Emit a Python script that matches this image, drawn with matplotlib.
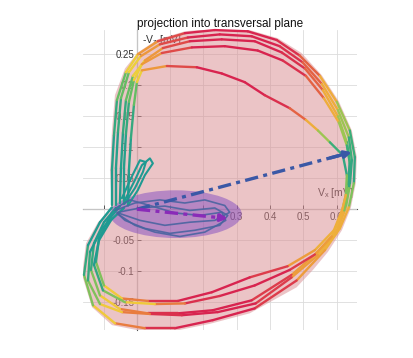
import numpy as np
import matplotlib
matplotlib.use("Agg")
import matplotlib.pyplot as plt
from matplotlib.collections import LineCollection
from matplotlib.colors import LinearSegmentedColormap
from matplotlib.patches import Ellipse, Polygon

plt.rcParams['font.family'] = ['Liberation Sans', 'DejaVu Sans']
plt.rcParams['mathtext.fontset'] = 'custom'
plt.rcParams['mathtext.rm'] = 'Liberation Sans'
plt.rcParams['mathtext.it'] = 'Liberation Sans:italic'

# ---------------- data (mV) ----------------
loop_a_x = [-0.075, -0.075, -0.069, -0.060, -0.033, 0.003, 0.063, 0.144, 0.234, 0.333, 0.420, 0.489, 0.550, 0.601, 0.640, 0.655,
            0.652, 0.637, 0.610, 0.565, 0.480, 0.354, 0.228, 0.114, 0.024, -0.066, -0.132, -0.159, -0.147, -0.111, -0.075]
loop_a_y = [0.006, 0.063, 0.119, 0.176, 0.221, 0.250, 0.271, 0.284, 0.289, 0.287, 0.273, 0.248, 0.215, 0.173, 0.127, 0.084,
            0.042, 0.003, -0.031, -0.066, -0.115, -0.160, -0.179, -0.192, -0.192, -0.184, -0.155, -0.106, -0.058, -0.021, 0.003]

loop_b_x = [-0.063, -0.063, -0.057, -0.048, -0.024, 0.012, 0.069, 0.153, 0.249, 0.345, 0.429, 0.498, 0.556, 0.604, 0.637, 0.646,
            0.640, 0.628, 0.601, 0.544, 0.465, 0.345, 0.228, 0.123, 0.033, -0.051, -0.111, -0.138, -0.129, -0.099, -0.063]
loop_b_y = [0.006, 0.066, 0.124, 0.179, 0.221, 0.247, 0.266, 0.277, 0.282, 0.279, 0.263, 0.237, 0.202, 0.160, 0.116, 0.079,
            0.039, 0.003, -0.034, -0.069, -0.106, -0.147, -0.163, -0.168, -0.168, -0.161, -0.139, -0.098, -0.055, -0.021, 0.002]

loop_c_x = [-0.051, -0.048, -0.042, -0.033, -0.012, 0.024, 0.078, 0.159, 0.255, 0.354, 0.435, 0.505, 0.559, 0.604, 0.631, 0.640,
            0.634, 0.619, 0.592, 0.535, 0.453, 0.339, 0.225, 0.123, 0.033, -0.045, -0.099, -0.123, -0.114, -0.087, -0.051]
loop_c_y = [0.010, 0.066, 0.123, 0.176, 0.215, 0.240, 0.260, 0.271, 0.274, 0.271, 0.253, 0.227, 0.192, 0.150, 0.108, 0.076,
            0.037, 0.002, -0.034, -0.066, -0.092, -0.110, -0.134, -0.148, -0.148, -0.144, -0.123, -0.085, -0.047, -0.018, 0.005]

loop_d_x = [-0.039, -0.039, -0.033, -0.024, -0.009, 0.015, 0.075, 0.165, 0.264, 0.363, 0.438, 0.508, 0.562, 0.607, 0.631, 0.640,
            0.637, 0.622, 0.598, 0.544, 0.465, 0.357, 0.243, 0.135, 0.039, -0.045, -0.111, -0.147, -0.141, -0.105, -0.039]
loop_d_y = [0.008, 0.066, 0.121, 0.173, 0.208, 0.234, 0.252, 0.261, 0.263, 0.256, 0.240, 0.215, 0.179, 0.140, 0.103, 0.074,
            0.034, -0.005, -0.040, -0.074, -0.110, -0.152, -0.166, -0.171, -0.169, -0.166, -0.153, -0.115, -0.069, -0.031, 0.002]

loop_e_x = [-0.027, -0.024, -0.018, -0.009, 0.000, 0.015, 0.090, 0.180, 0.255, 0.324, 0.384, 0.459, 0.508, 0.544, 0.580, 0.619,
            0.631, 0.628, 0.613, 0.586, 0.535, 0.459, 0.354, 0.249, 0.144, 0.054, -0.036, -0.102, -0.129, -0.114, -0.075]
loop_e_y = [0.008, 0.063, 0.115, 0.168, 0.205, 0.224, 0.231, 0.229, 0.219, 0.205, 0.184, 0.163, 0.144, 0.127, 0.108, 0.087,
            0.055, 0.023, -0.010, -0.044, -0.073, -0.098, -0.123, -0.140, -0.152, -0.153, -0.150, -0.131, -0.090, -0.050, -0.015]

# colour value along the loop (shared by all beats)
loop_c_val = [0.30, 0.30, 0.32, 0.40, 0.55, 0.68, 0.85, 1.0, 1.0, 1.0, 1.0, 0.95, 0.80, 0.62, 0.45, 0.32,
              0.38, 0.62, 0.80, 0.60, 0.90, 1.0, 1.0, 1.0, 0.95, 0.70, 0.58, 0.42, 0.30, 0.28, 0.28]

# small loops near origin
teal1_x = [-0.036, -0.006, 0.015, 0.039, 0.048, 0.024, 0.003, -0.027]
teal1_y = [0.015, 0.047, 0.071, 0.082, 0.074, 0.055, 0.031, 0.006]
teal2_x = [-0.045, -0.015, 0.009, 0.027, 0.018, -0.006, -0.036]
teal2_y = [0.018, 0.053, 0.079, 0.076, 0.060, 0.034, 0.010]

blue1_x = [-0.066, -0.006, 0.069, 0.144, 0.204, 0.264, 0.279, 0.234, 0.159, 0.084, 0.009, -0.057]
blue1_y = [-0.002, 0.010, 0.015, 0.010, 0.015, 0.006, -0.005, -0.018, -0.021, -0.026, -0.018, -0.006]
blue2_x = [-0.057, 0.009, 0.084, 0.159, 0.234, 0.273, 0.249, 0.174, 0.099, 0.024, -0.036, -0.060]
blue2_y = [-0.005, 0.002, 0.005, -0.002, 0.002, -0.010, -0.026, -0.034, -0.039, -0.031, -0.018, -0.006]
blue3_x = [-0.063, -0.021, 0.039, 0.114, 0.189, 0.255, 0.267, 0.204, 0.129, 0.054, -0.006, -0.057]
blue3_y = [0.002, 0.015, 0.006, -0.006, -0.010, -0.005, -0.018, -0.037, -0.044, -0.037, -0.026, -0.008]

# loop area outline
area_x = [-0.075, -0.081, -0.075, -0.066, -0.036, 0.003, 0.063, 0.144, 0.234, 0.333, 0.423, 0.495, 0.556, 0.607, 0.646, 0.661,
          0.658, 0.643, 0.616, 0.574, 0.529, 0.480, 0.339, 0.219, 0.108, 0.000, -0.075, -0.135, -0.165, -0.153, -0.117]
area_y = [-0.002, 0.063, 0.127, 0.184, 0.227, 0.253, 0.274, 0.287, 0.292, 0.290, 0.276, 0.252, 0.216, 0.174, 0.127, 0.084,
          0.042, 0.002, -0.034, -0.069, -0.098, -0.126, -0.168, -0.185, -0.197, -0.195, -0.187, -0.158, -0.106, -0.055, -0.021]

# ellipse (center, width, height) and vectors
ell_center = (0.117, -0.008)
ell_size = (0.396, 0.077)
vec_qrs = (0.646, 0.092)
vec_t = (0.273, -0.015)

x_ticks = [-0.1, 0.0, 0.1, 0.2, 0.3, 0.4, 0.5, 0.6]
x_ticklabels = ['', '', '', '', '0.3', '0.4', '0.5', '0.6']
y_ticks = [-0.15, -0.1, -0.05, 0.0, 0.05, 0.1, 0.15, 0.2, 0.25]
y_ticklabels = ['-0.15', '-0.1', '-0.05', '', '0.05', '0.1', '0.15', '0.2', '0.25']

# ---------------- plot ----------------
cmap = LinearSegmentedColormap.from_list('vcg', [
    (0.0, '#3f5c9e'), (0.28, '#1f9a92'), (0.45, '#4dba6a'),
    (0.62, '#f0d03a'), (0.80, '#ec8a3c'), (1.0, '#d8244f')])

fig = plt.figure(figsize=(4.13, 3.58), dpi=100)
ax = fig.add_axes([0.201, 0.078, 0.663, 0.838])
ax.set_xlim(-0.162, 0.661)
ax.set_ylim(-0.195, 0.289)
ax.set_axisbelow(True)

for s in ['top', 'right']:
    ax.spines[s].set_visible(False)
ax.spines['left'].set_position(('data', 0))
ax.spines['bottom'].set_position(('data', 0))
for s in ['left', 'bottom']:
    ax.spines[s].set_color('#555555')
    ax.spines[s].set_linewidth(0.8)
    ax.spines[s].set_zorder(0.5)

ax.set_xticks(x_ticks)
ax.set_xticklabels(x_ticklabels)
ax.set_yticks(y_ticks)
ax.set_yticklabels(y_ticklabels)
ax.tick_params(direction='in', length=3, width=0.7, color='#555555',
               labelsize=7, labelcolor='#333333', pad=2)
ax.grid(True, color='#dcdcdc', linewidth=0.6)

ax.add_patch(Polygon(np.column_stack([area_x, area_y]), closed=True,
                     facecolor='#d98a8f', alpha=0.5, edgecolor='none', zorder=0.6))
ax.add_patch(Ellipse(ell_center, ell_size[0], ell_size[1], facecolor='#7d45c0',
                     alpha=0.48, edgecolor='none', zorder=1.2))


def colored_loop(xs, ys, cv, lw):
    pts = np.column_stack([xs, ys])
    segs = np.stack([pts[:-1], pts[1:]], axis=1)
    cv = np.asarray(cv)
    vals = (cv[:-1] + cv[1:]) / 2
    lc = LineCollection(segs, colors=cmap(vals), linewidths=lw,
                        capstyle='round', joinstyle='round', zorder=2, clip_on=False)
    ax.add_collection(lc)


for lx, ly in [(loop_a_x, loop_a_y), (loop_b_x, loop_b_y), (loop_c_x, loop_c_y),
               (loop_d_x, loop_d_y), (loop_e_x, loop_e_y)]:
    colored_loop(lx, ly, loop_c_val, 1.7)

for tx, ty in [(teal1_x, teal1_y), (teal2_x, teal2_y)]:
    ax.plot(tx, ty, color=cmap(0.28), lw=1.5, zorder=2, solid_joinstyle='round')
for bx, by in [(blue1_x, blue1_y), (blue2_x, blue2_y), (blue3_x, blue3_y)]:
    ax.plot(bx, by, color='#4a64a0', lw=1.2, zorder=2.1, alpha=0.9, solid_joinstyle='round')

# vectors
def vector(tip, color, lw):
    frac = 0.94
    ax.plot([0, tip[0] * frac], [0, tip[1] * frac], color=color, lw=lw,
            linestyle=(0, (4, 1.6, 1.2, 1.6)), zorder=3, dash_capstyle='butt')
    ax.annotate('', xy=tip, xytext=(tip[0] * 0.9, tip[1] * 0.9),
                arrowprops=dict(arrowstyle='-|>', color=color, lw=lw, mutation_scale=10,
                                shrinkA=0, shrinkB=0), zorder=3)

vector(vec_qrs, '#3a58a6', 2.4)
vector(vec_t, '#8a2bb8', 2.4)

ax.text(0.015, 0.268, r'-V$_\mathrm{z}$ [mV]', fontsize=7.5, color='#333333', zorder=0.55)
ax.text(0.54, 0.022, r'V$_\mathrm{x}$ [mV]', fontsize=7.5, color='#333333', zorder=0.55)

ax.set_title('projection into transversal plane', fontsize=8.5, color='#111111', pad=2)

fig.savefig('out.png', dpi=100)
